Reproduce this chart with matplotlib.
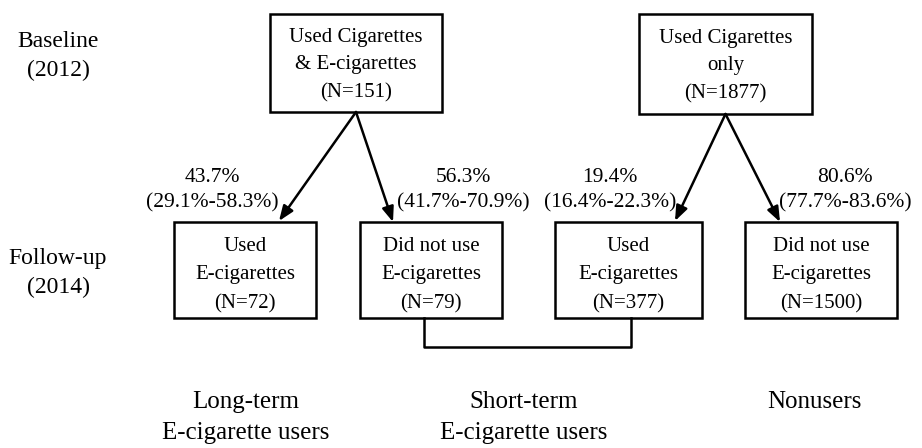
import matplotlib.pyplot as plt
import matplotlib.patches as patches

# data
top_labels = ["Used Cigarettes\n& E-cigarettes", "Used Cigarettes\nonly"]
top_n = [151, 1877]
bottom_labels = ["Used\nE-cigarettes", "Did not use\nE-cigarettes",
                 "Used\nE-cigarettes", "Did not use\nE-cigarettes"]
bottom_n = [72, 79, 377, 1500]
pct = ["43.7%", "56.3%", "19.4%", "80.6%"]
ci = ["(29.1%-58.3%)", "(41.7%-70.9%)", "(16.4%-22.3%)", "(77.7%-83.6%)"]
groups = [["Long-term", "E-cigarette users"], ["Short-term", "E-cigarette users"], ["Nonusers"]]
stages = ["Baseline\n(2012)", "Follow-up\n(2014)"]

# layout (pixel coordinates)
top_boxes = [(270, 14, 442, 112), (639, 14, 812, 114)]
bot_boxes = [(174, 222, 316, 318), (360, 222, 502, 318),
             (555, 222, 702, 318), (745, 222, 897, 318)]
arrow_tips = [(279, 221), (393, 222), (675, 221), (780, 222)]
pct_x = [212, 463, 610, 845]
group_x = [246, 524, 814]

plt.rcParams['font.family'] = ['Liberation Serif', 'DejaVu Serif']
fs = 15

fig = plt.figure(figsize=(9.22, 4.48), dpi=100)
ax = fig.add_axes([0, 0, 1, 1])
ax.set_xlim(0, 922)
ax.set_ylim(448, 0)
ax.axis("off")

def box(b, text, dy, ls):
    x0, y0, x1, y1 = b
    ax.add_patch(patches.Rectangle((x0, y0), x1 - x0, y1 - y0, fill=False,
                                   edgecolor="black", linewidth=1.8))
    ax.text((x0 + x1) / 2, (y0 + y1) / 2 + dy, text, ha="center", va="center",
            fontsize=fs, linespacing=ls)

for b, lab, n in zip(top_boxes, top_labels, top_n):
    box(b, f"{lab}\n(N={n})", 2, 1.6)
for b, lab, n in zip(bot_boxes, bottom_labels, bottom_n):
    box(b, f"{lab}\n(N={n})", 5, 1.68)

for i, tip in enumerate(arrow_tips):
    b = top_boxes[i // 2]
    start = ((b[0] + b[2]) / 2, b[3])
    ax.annotate("", xy=tip, xytext=start,
                arrowprops=dict(arrowstyle="-|>,head_length=0.9,head_width=0.35",
                                color="black", lw=1.8, shrinkA=0, shrinkB=0))

for x, p, c in zip(pct_x, pct, ci):
    ax.text(x, 177, p, ha="center", va="center", fontsize=15.5)
    ax.text(x, 203, c, ha="center", va="center", fontsize=15.5)

# connector between short-term boxes
ax.plot([424, 424, 631, 631], [318, 347, 347, 318], color="black", lw=1.8)

ax.text(58, 56, stages[0], ha="center", va="center", fontsize=17, linespacing=1.5)
ax.text(58, 273, stages[1], ha="center", va="center", fontsize=17, linespacing=1.5)

for x, g in zip(group_x, groups):
    for j, line in enumerate(g):
        ax.text(x, 402 + 31 * j, line, ha="center", va="center", fontsize=18)

fig.savefig("out.png", dpi=100, facecolor="white")
